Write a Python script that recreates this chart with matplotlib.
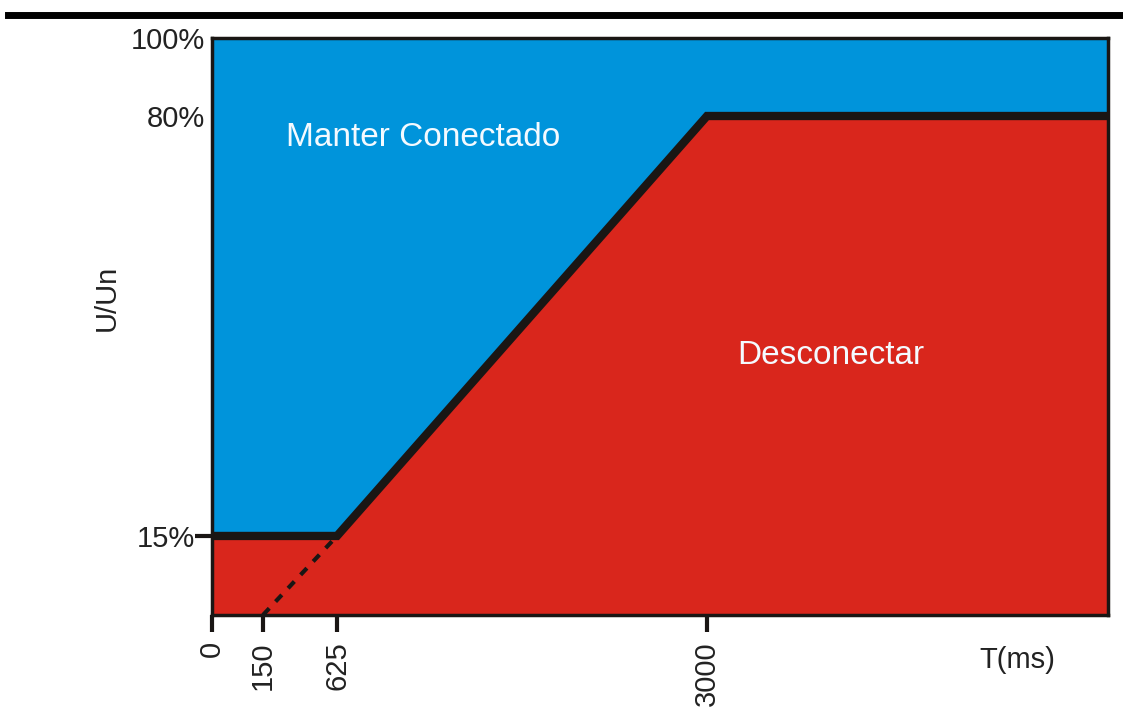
import numpy as np
import matplotlib.pyplot as plt
from matplotlib.transforms import ScaledTranslation

plt.rcParams['font.family'] = ['Liberation Sans', 'DejaVu Sans']

# curva limite (tempo em ms, tensao em %)
t_curva = [0, 625, 3000, 5600]
u_curva = [15, 15, 80, 80]
t_tracejado = [150, 625]
u_tracejado = [0, 15]

x_ticks = [0, 150, 625, 3000]
y_ticks = [15, 80, 100]
y_ticklabels = ['15%', '80%', '100%']

# eixo esquematico: posicoes nao lineares
x_ms = [0, 150, 625, 3000, 5600]
x_pos = [0, 51, 125, 495, 896]
y_pc = [0, 15, 80, 100]
y_pos = [0, 79, 499, 577]


def fx(v):
    return np.interp(v, x_ms, x_pos)


def ix(v):
    return np.interp(v, x_pos, x_ms)


def fy(v):
    return np.interp(v, y_pc, y_pos)


def iy(v):
    return np.interp(v, y_pos, y_pc)


azul = '#0094db'
vermelho = '#d9261c'
preto = '#1a1614'

fig = plt.figure(figsize=(11.23, 7.08), dpi=100)
ax = fig.add_axes([0.1888, 0.1314, 0.7978, 0.8149])
ax.set_xscale('function', functions=(fx, ix))
ax.set_yscale('function', functions=(fy, iy))
ax.set_xlim(0, 5600)
ax.set_ylim(0, 100)
ax.set_facecolor(azul)

ax.fill_between(t_curva, u_curva, 0, color=vermelho, lw=0, zorder=1)
ax.plot(t_curva, u_curva, color=preto, lw=6, solid_capstyle='butt',
        solid_joinstyle='miter', zorder=3, clip_on=False)
ax.plot(t_tracejado, u_tracejado, color=preto, lw=3, ls=(0, (2.2, 2.2)), zorder=2)

for s in ax.spines.values():
    s.set_linewidth(2.5)
    s.set_color(preto)

ax.set_xticks(x_ticks)
ax.set_xticklabels([str(v) for v in x_ticks], rotation=90, fontsize=21, color='#222222')
ax.set_yticks(y_ticks)
ax.set_yticklabels(y_ticklabels, fontsize=21, color='#222222')
ax.tick_params(axis='x', length=12, width=3, color=preto, pad=7)
ax.tick_params(axis='y', length=12, width=3, color=preto, pad=0)
ax.minorticks_off()

# so o 15% tem marca; 80% e 100% ficam mais perto do eixo
for tk in ax.yaxis.get_major_ticks()[1:]:
    tk.tick1line.set_visible(False)
for lab in ax.get_yticklabels()[1:]:
    lab.set_transform(lab.get_transform() + ScaledTranslation(0.1, 0, fig.dpi_scale_trans))

ax.text(1177, 76.6, 'Manter Conectado', color='#f4faff', fontsize=24, ha='center', va='center')
ax.text(3804, 43, 'Desconectar', color='#f4faff', fontsize=24, ha='center', va='center')
fig.text(0.095, 0.579, 'U/Un', rotation=90, fontsize=21, color='#222222', ha='center', va='center')
fig.text(0.906, 0.068, 'T(ms)', fontsize=21, color='#222222', ha='center', va='center')

# linha superior
fig.add_artist(plt.Line2D([0.007, 1.0], [0.979, 0.979], color='black', lw=5))

fig.savefig('out.png', dpi=100)
